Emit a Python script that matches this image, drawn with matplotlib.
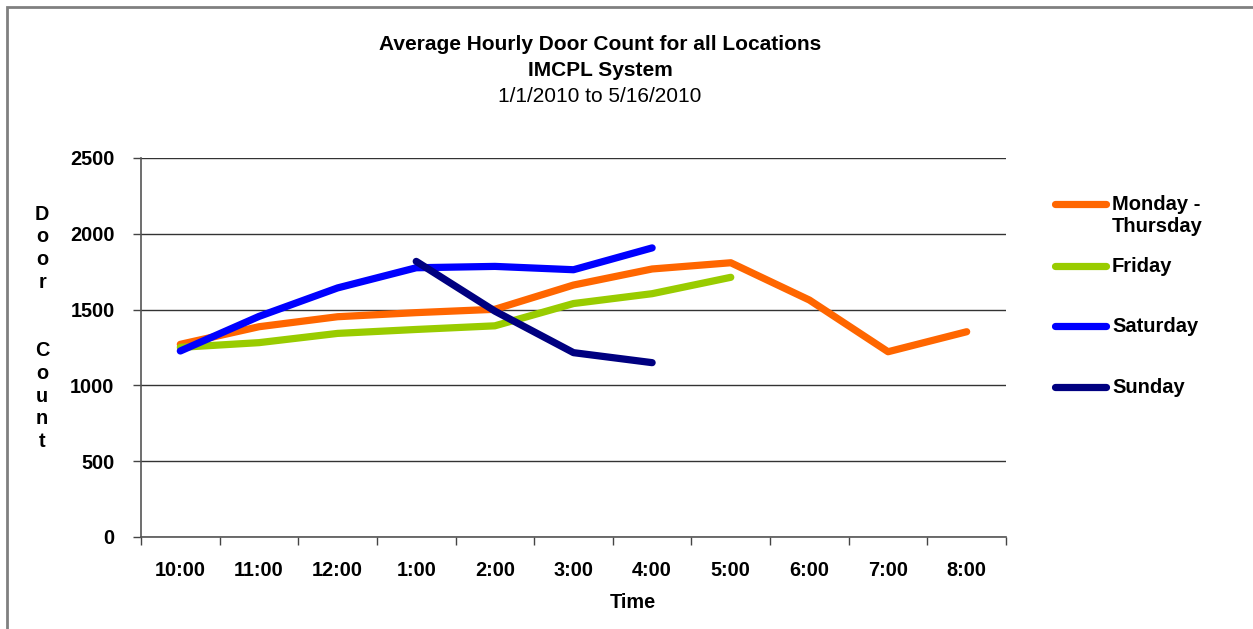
import numpy as np
import matplotlib.pyplot as plt
from matplotlib.lines import Line2D
from matplotlib.patches import Rectangle

plt.rcParams['font.family'] = ['Liberation Sans', 'DejaVu Sans']

hours = ['10:00', '11:00', '12:00', '1:00', '2:00', '3:00', '4:00', '5:00', '6:00', '7:00', '8:00']
nan = np.nan
mon_thu = [1271, 1387, 1453, 1480, 1502, 1662, 1768, 1809, 1563, 1222, 1354]
friday = [1251, 1282, 1343, 1369, 1393, 1540, 1605, 1713, nan, nan, nan]
saturday = [1227, 1455, 1643, 1776, 1785, 1763, 1907, nan, nan, nan, nan]
sunday = [nan, nan, nan, 1818, 1490, 1216, 1150, nan, nan, nan, nan]

series = [('Monday -\nThursday', mon_thu, '#FF6600'),
          ('Friday', friday, '#99CC00'),
          ('Saturday', saturday, '#0000FF'),
          ('Sunday', sunday, '#000080')]

W, H = 1253, 629
fig = plt.figure(figsize=(W / 100, H / 100), dpi=100)
ax = fig.add_axes([141 / W, 1 - 537 / H, 865 / W, 379 / H])

x = np.arange(len(hours))
for name, vals, col in series:
    ax.plot(x, np.array(vals, dtype=float), color=col, lw=5.2,
            solid_capstyle='round', solid_joinstyle='round')

ax.set_xlim(-0.5, len(hours) - 0.5)
ax.set_ylim(0, 2500)
ax.set_yticks([0, 500, 1000, 1500, 2000, 2500])
ax.yaxis.grid(True, color='#333333', lw=1)
ax.set_axisbelow(True)

# ticks between categories, labels at centres
ax.set_xticks(np.arange(-0.5, len(hours), 1.0))
ax.set_xticklabels([])
ax.set_xticks(x, minor=True)
ax.set_xticklabels(hours, minor=True, fontsize=14.3, fontweight='bold')
ax.tick_params(axis='x', which='minor', length=0, pad=17)
ax.tick_params(axis='x', which='major', length=6, width=1, color='#444444', direction='out')
ax.tick_params(axis='y', length=6, width=1, color='#444444', pad=13, labelsize=14.3)
for lab in ax.get_yticklabels():
    lab.set_fontweight('bold')

for s in ['top', 'right']:
    ax.spines[s].set_visible(False)
for s in ['left', 'bottom']:
    ax.spines[s].set_color('#555555')
    ax.spines[s].set_linewidth(1.2)

# titles
fig.text(600 / W, 1 - 45 / H, 'Average Hourly Door Count for all Locations',
         ha='center', va='center', fontsize=15, fontweight='bold')
fig.text(600 / W, 1 - 71 / H, 'IMCPL System',
         ha='center', va='center', fontsize=15, fontweight='bold')
fig.text(600 / W, 1 - 96 / H, '1/1/2010 to 5/16/2010',
         ha='center', va='center', fontsize=15)

fig.text(633 / W, 1 - 603 / H, 'Time', ha='center', va='center',
         fontsize=14.3, fontweight='bold')
fig.text(42 / W, 1 - 328 / H, 'D\no\no\nr\n\n\nC\no\nu\nn\nt', ha='center', va='center',
         fontsize=14.3, fontweight='bold', linespacing=1.25)

# legend drawn by hand to follow the original spacing
leg_y = [204, 266, 326, 387]
for (name, vals, col), yy in zip(series, leg_y):
    fy = 1 - yy / H
    fig.add_artist(Line2D([1055 / W, 1106 / W], [fy, fy], color=col, lw=5.2,
                          solid_capstyle='round'))
    fig.text(1112 / W, 1 - (yy - 9) / H, name, ha='left', va='top',
             fontsize=14.5, fontweight='bold', linespacing=1.2)

fig.add_artist(Rectangle((7 / W, -0.1), 1.2, 1 - 7 / H + 0.1, transform=fig.transFigure,
                         fill=False, edgecolor='#808080', lw=2))

fig.savefig('out.png', dpi=100)
